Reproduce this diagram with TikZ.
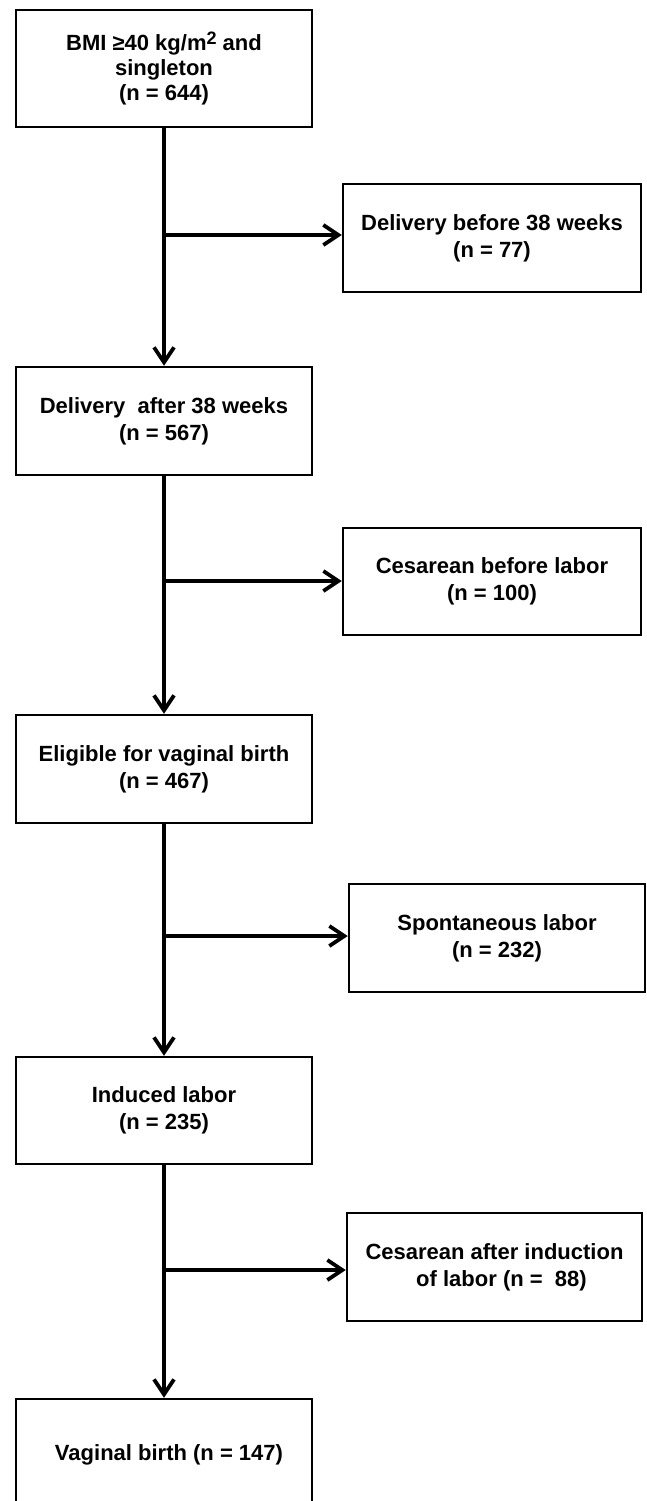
\documentclass[tikz,border=0pt]{standalone}
\usepackage{fontspec}
\setmainfont{Liberation Sans}
\usetikzlibrary{arrows.meta}
\tikzset{
  boxnode/.style={draw=black, line width=2.5pt, rectangle, align=center, inner sep=0pt,
    font=\bfseries\fontsize{22}{27}\selectfont},
  leftbox/.style={boxnode, minimum width=296pt},
  conn/.style={draw=black, line width=3.8pt},
  arr/.style={-{Straight Barb[length=15pt,width=20pt,line width=3.8pt]}}
}
\begin{document}
\begin{tikzpicture}[x=1pt,y=-1pt]
\useasboundingbox (0,0) rectangle (646,1501);
\clip (0,0) rectangle (646,1501);
\fill[white] (0,0) rectangle (646,1501);

\node[leftbox, minimum height=117pt, font=\bfseries\fontsize{22}{25}\selectfont] (b1) at (164,68.5)
  {BMI ≥40 kg/m\raisebox{0.5ex}{\fontsize{18}{18}\selectfont 2} and\\ singleton\\ (n = 644)};
\node[boxnode, minimum width=298pt, minimum height=108pt] (b2) at (492,238)
  {Delivery before 38 weeks\\ (n = 77)};
\node[leftbox, minimum height=108pt] (b3) at (164,421)
  {Delivery~ after 38 weeks\\ (n = 567)};
\node[boxnode, minimum width=298pt, minimum height=107pt] (b4) at (492,581.5)
  {Cesarean before labor\\ (n = 100)};
\node[leftbox, minimum height=108pt] (b5) at (164,769)
  {Eligible for vaginal birth\\ (n = 467)};
\node[boxnode, minimum width=296pt, minimum height=108pt] (b6) at (497,938)
  {Spontaneous labor\\ (n = 232)};
\node[leftbox, minimum height=107pt] (b7) at (164,1110.5)
  {Induced labor\\ (n = 235)};
\node[boxnode, minimum width=295pt, minimum height=108pt] (b8) at (494.5,1267)
  {Cesarean after induction\\ \hspace*{14pt}of labor (n = ~88)};
\node[leftbox, minimum height=112pt] (b9) at (164,1455)
  {\hspace*{10pt}Vaginal birth (n = 147)};

\coordinate (j1) at (164,235);
\coordinate (j2) at (164,581);
\coordinate (j3) at (164,936);
\coordinate (j4) at (164,1270);

\draw[conn, arr] (b1.south) -- (b3.north);
\draw[conn, arr] (j1) -- (j1 -| b2.west);
\draw[conn, arr] (b3.south) -- (b5.north);
\draw[conn, arr] (j2) -- (j2 -| b4.west);
\draw[conn, arr] (b5.south) -- (b7.north);
\draw[conn, arr] (j3) -- (j3 -| b6.west);
\draw[conn, arr] (b7.south) -- (b9.north);
\draw[conn, arr] (j4) -- (j4 -| b8.west);
\end{tikzpicture}
\end{document}
